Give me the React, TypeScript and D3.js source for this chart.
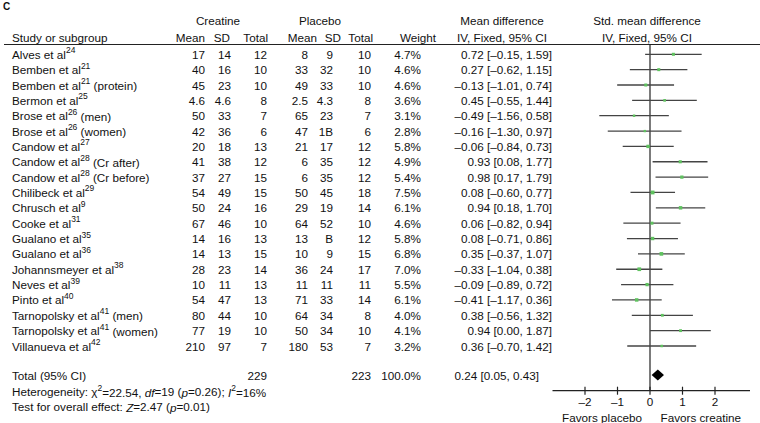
import React from "react";
import * as d3 from "d3";

// study labels: name, superscript ref, suffix
const studyNames = [
  "Alves et al", "Bemben et al", "Bemben et al", "Bermon et al", "Brose et al",
  "Brose et al", "Candow et al", "Candow et al", "Candow et al", "Chilibeck et al",
  "Chrusch et al", "Cooke et al", "Gualano et al", "Gualano et al", "Johannsmeyer et al",
  "Neves et al", "Pinto et al", "Tarnopolsky et al", "Tarnopolsky et al", "Villanueva et al",
];
const studyRefs = ["24", "21", "21", "25", "26", "26", "27", "28", "28", "29", "9", "31", "35", "36", "38", "39", "40", "41", "41", "42"];
const studySuffix = ["", "", " (protein)", "", " (men)", " (women)", "", " (Cr after)", " (Cr before)", "", "", "", "", "", "", "", "", " (men)", " (women)", ""];

const creMean = ["17", "40", "45", "4.6", "50", "42", "20", "41", "37", "54", "50", "67", "14", "14", "28", "10", "54", "80", "77", "210"];
const creSD = ["14", "16", "23", "4.6", "33", "36", "18", "38", "27", "49", "24", "46", "16", "13", "23", "11", "47", "44", "19", "97"];
const creN = [12, 10, 10, 8, 7, 6, 13, 12, 15, 15, 16, 10, 13, 15, 14, 13, 13, 10, 10, 7];
const plaMean = ["8", "33", "49", "2.5", "65", "47", "21", "6", "6", "50", "29", "64", "13", "10", "36", "11", "71", "64", "50", "180"];
const plaSD = ["9", "32", "33", "4.3", "23", "1B", "17", "35", "35", "45", "19", "52", "B", "9", "24", "11", "33", "34", "34", "53"];
const plaN = [10, 10, 10, 8, 7, 6, 12, 12, 12, 18, 14, 10, 12, 15, 17, 11, 14, 8, 10, 7];
const weights = [4.7, 4.6, 4.6, 3.6, 3.1, 2.8, 5.8, 4.9, 5.4, 7.5, 6.1, 4.6, 5.8, 6.8, 7.0, 5.5, 6.1, 4.0, 4.1, 3.2];
const smd = [0.72, 0.27, -0.13, 0.45, -0.49, -0.16, -0.06, 0.93, 0.98, 0.08, 0.94, 0.06, 0.08, 0.35, -0.33, -0.09, -0.41, 0.38, 0.94, 0.36];
const ciLow = [-0.15, -0.62, -1.01, -0.55, -1.56, -1.3, -0.84, 0.08, 0.17, -0.6, 0.18, -0.82, -0.71, -0.37, -1.04, -0.89, -1.17, -0.56, 0.0, -0.7];
const ciHigh = [1.59, 1.15, 0.74, 1.44, 0.58, 0.97, 0.73, 1.77, 1.79, 0.77, 1.7, 0.94, 0.86, 1.07, 0.38, 0.72, 0.36, 1.32, 1.87, 1.42];

const totalCre = 229;
const totalPla = 223;
const totalWeight = 100.0;
const totalEffect = [0.24, 0.05, 0.43];
const axisTicks = [-2, -1, 0, 1, 2];

const W = 760;
const H = 423;
const font = "'Liberation Sans', Arial, Helvetica, sans-serif";
const fs = 11.7;

const f2 = (v: number) => d3.format(".2f")(v).replace("-", "–").replace("−", "–");
const fw = (v: number) => d3.format(".1f")(v) + "%";

export default function App() {
  const x = d3.scaleLinear().domain([-3, 3]).range([552.5, 747.5]);
  const y = d3
    .scalePoint<number>()
    .domain(d3.range(studyNames.length))
    .range([54.3, 346]);

  const yTotal = 375;
  const axisY = 390.7;

  const cols = { creMean: 205, creSD: 231, creN: 267, plaMean: 308, plaSD: 333, plaN: 371, weight: 421, md: 552 };

  const num = (xx: number, yy: number, t: string | number, key: string) => (
    <text key={key} x={xx} y={yy} textAnchor="end" dominantBaseline="central">{t}</text>
  );

  const [te, tl, th] = totalEffect;
  const diamond = [
    [x(tl), yTotal], [x(te), yTotal - 5.5], [x(th), yTotal], [x(te), yTotal + 5.5],
  ].map((p) => p.join(",")).join(" ");

  return (
    <svg width={W} height={H} style={{ position: "absolute", left: 0, top: 0 }} fontFamily={font} fontSize={fs} fill="#111">
      <rect width={W} height={H} fill="#fff" />
      <text x={3} y={6} fontWeight="bold" fontSize={10} dominantBaseline="central">C</text>

      {/* headers */}
      <text x={218} y={20.7} textAnchor="middle" dominantBaseline="central">Creatine</text>
      <text x={320} y={20.7} textAnchor="middle" dominantBaseline="central">Placebo</text>
      <text x={502} y={20.7} textAnchor="middle" dominantBaseline="central">Mean difference</text>
      <text x={647} y={20.7} textAnchor="middle" dominantBaseline="central">Std. mean difference</text>
      <g dominantBaseline="central">
        <text x={12} y={37}>Study or subgroup</text>
        <text x={205} y={37} textAnchor="end">Mean</text>
        <text x={230} y={37} textAnchor="end">SD</text>
        <text x={268} y={37} textAnchor="end">Total</text>
        <text x={317} y={37} textAnchor="end">Mean</text>
        <text x={341} y={37} textAnchor="end">SD</text>
        <text x={373} y={37} textAnchor="end">Total</text>
        <text x={418} y={37} textAnchor="middle">Weight</text>
        <text x={502} y={37} textAnchor="middle">IV, Fixed, 95% CI</text>
        <text x={647} y={37} textAnchor="middle">IV, Fixed, 95% CI</text>
      </g>
      <line x1={4} x2={W} y1={44.5} y2={44.5} stroke="#222" strokeWidth={1.2} />

      {/* rows */}
      {studyNames.map((name, i) => {
        const yy = y(i) as number;
        return (
          <g key={i}>
            <text x={12} y={yy} dominantBaseline="central">
              {name}
              <tspan fontSize={8.5} dy={-4}>{studyRefs[i]}</tspan>
              <tspan dy={4}>{studySuffix[i]}</tspan>
            </text>
            {num(cols.creMean, yy, creMean[i], "a")}
            {num(cols.creSD, yy, creSD[i], "b")}
            {num(cols.creN, yy, creN[i], "c")}
            {num(cols.plaMean, yy, plaMean[i], "d")}
            {num(cols.plaSD, yy, plaSD[i], "e")}
            {num(cols.plaN, yy, plaN[i], "f")}
            {num(cols.weight, yy, fw(weights[i]), "g")}
            {num(cols.md, yy, `${f2(smd[i])} [${f2(ciLow[i])}, ${f2(ciHigh[i])}]`, "h")}
          </g>
        );
      })}

      {/* totals */}
      <text x={12} y={yTotal} dominantBaseline="central">Total (95% CI)</text>
      {num(cols.creN, yTotal, totalCre, "tc")}
      {num(cols.plaN, yTotal, totalPla, "tp")}
      {num(cols.weight, yTotal, d3.format(".1f")(totalWeight) + "%", "tw")}
      {num(539, yTotal, `${f2(te)} [${f2(tl)}, ${f2(th)}]`, "tm")}
      <text x={12} y={391.5} dominantBaseline="central">
        Heterogeneity: χ<tspan fontSize={8.5} dy={-4}>2</tspan>
        <tspan dy={4}>=22.54, </tspan>
        <tspan fontStyle="italic">df</tspan>=19 (<tspan fontStyle="italic">p</tspan>=0.26); <tspan fontStyle="italic">I</tspan>
        <tspan fontSize={8.5} dy={-4}>2</tspan>
        <tspan dy={4}>=16%</tspan>
      </text>
      <text x={12} y={406.5} dominantBaseline="central">
        Test for overall effect: <tspan fontStyle="italic">Z</tspan>=2.47 (<tspan fontStyle="italic">p</tspan>=0.01)
      </text>

      {/* forest plot */}
      <line x1={x(0)} x2={x(0)} y1={44.5} y2={axisY} stroke="#222" strokeWidth={1.2} />
      {studyNames.map((_, i) => {
        const yy = y(i) as number;
        const s = 1.4 * Math.sqrt(weights[i]);
        return (
          <g key={"f" + i}>
            <line x1={x(ciLow[i])} x2={x(ciHigh[i])} y1={yy} y2={yy} stroke="#444" strokeWidth={1.3} />
            <rect x={x(smd[i]) - s / 2} y={yy - s / 2} width={s} height={s} fill="#5fc25f" />
          </g>
        );
      })}
      <polygon points={diamond} fill="#000" />

      {/* axis */}
      <line x1={x(-3)} x2={750} y1={axisY} y2={axisY} stroke="#222" strokeWidth={1.2} />
      {axisTicks.map((t) => (
        <g key={t}>
          <line x1={x(t)} x2={x(t)} y1={axisY - 4} y2={axisY + 4} stroke="#222" strokeWidth={1.2} />
          <text x={x(t)} y={401.7} textAnchor="middle" dominantBaseline="central">{t < 0 ? "–" + Math.abs(t) : t}</text>
        </g>
      ))}
      <text x={642} y={417.3} textAnchor="end" dominantBaseline="central">Favors placebo</text>
      <text x={660.5} y={417.3} textAnchor="start" dominantBaseline="central">Favors creatine</text>
    </svg>
  );
}
